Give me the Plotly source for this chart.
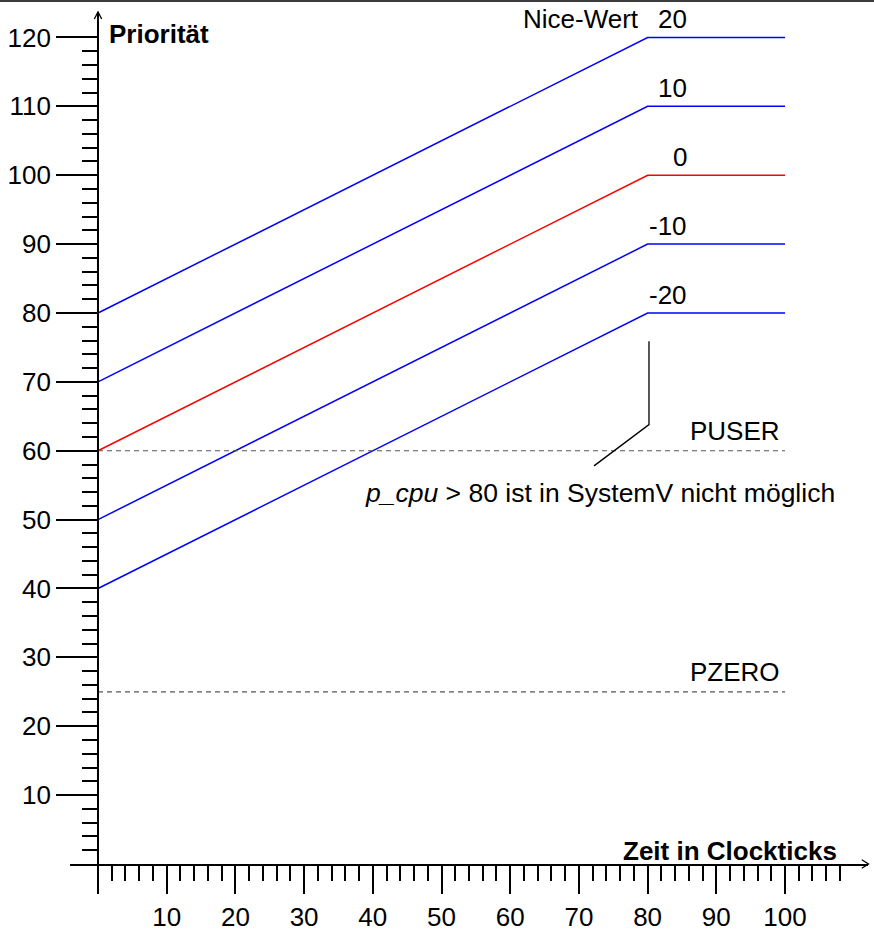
import plotly.graph_objects as go

# Zeitachse (Clockticks) und Prioritätsverlauf je Nice-Wert
zeit = [0, 80, 100]
nice_werte = ["20", "10", "0", "-10", "-20"]
prioritaet = {
    "20": [80, 120, 120],
    "10": [70, 110, 110],
    "0": [60, 100, 100],
    "-10": [50, 90, 90],
    "-20": [40, 80, 80],
}
farben = {"20": "#0000ff", "10": "#0000ff", "0": "#ff0000", "-10": "#0000ff", "-20": "#0000ff"}

# Schwellen
schwellen_namen = ["PUSER", "PZERO"]
schwellen_werte = [60, 25]
schwellen_zeit = [0, 100]

# Hinweislinie zum Plateau bei p_cpu = 80
hinweis_x = [80.2, 80.2, 72.2]
hinweis_y = [75.9, 63.8, 57.8]

# Achsenbeschriftung
x_major = list(range(0, 101, 10))
x_major_text = [""] + [str(v) for v in range(10, 101, 10)]
x_minor = [v for v in range(2, 109, 2) if v % 10 != 0]
y_major = list(range(10, 121, 10))
y_minor = [v for v in range(2, 119, 2) if v % 10 != 0]

X_RANGE = [-4.076, 112.08]
Y_RANGE = [0, 123.7]

W, H = 874, 932
ML, MR, MT, MB = 70, 6, 12, 68
PW, PH = W - ML - MR, H - MT - MB

FONT = "Liberation Sans, Arial, Helvetica, sans-serif"
FS = 26


def px(xp):
    return (xp - ML) / PW


def py(yp):
    return 1 - (yp - MT) / PH


fig = go.Figure()

for nw in nice_werte:
    fig.add_trace(go.Scatter(
        x=zeit, y=prioritaet[nw], mode="lines",
        line=dict(color=farben[nw], width=1.5),
        showlegend=False, hoverinfo="skip"))

for name, wert in zip(schwellen_namen, schwellen_werte):
    fig.add_trace(go.Scatter(
        x=schwellen_zeit, y=[wert, wert], mode="lines",
        line=dict(color="#555555", width=1.2, dash="5px,4px"),
        showlegend=False, hoverinfo="skip"))

fig.add_trace(go.Scatter(
    x=hinweis_x, y=hinweis_y, mode="lines",
    line=dict(color="black", width=1.3),
    showlegend=False, hoverinfo="skip"))

annotations = []
# Nice-Wert-Beschriftungen über den Plateaus
for nw in nice_werte:
    annotations.append(dict(
        x=86.0, y=prioritaet[nw][-1], xref="x", yref="y",
        text=nw, showarrow=False, xanchor="right", yanchor="middle",
        yshift=18, font=dict(family=FONT, size=FS, color="black")))
annotations.append(dict(
    x=79.1, y=prioritaet["20"][-1], xref="x", yref="y",
    text="Nice-Wert", showarrow=False, xanchor="right", yanchor="middle",
    yshift=18, font=dict(family=FONT, size=FS, color="black")))

for name, wert in zip(schwellen_namen, schwellen_werte):
    annotations.append(dict(
        x=99.5, y=wert, xref="x", yref="y", text=name, showarrow=False,
        xanchor="right", yanchor="middle", yshift=20,
        font=dict(family=FONT, size=FS, color="black")))

annotations.append(dict(
    x=73.1, y=53.8, xref="x", yref="y",
    text="<i>p_cpu</i> &gt; 80 ist in SystemV nicht möglich",
    showarrow=False, xanchor="center", yanchor="middle",
    font=dict(family=FONT, size=26.5, color="black")))

annotations.append(dict(
    x=px(107), y=py(34), xref="paper", yref="paper",
    text="<b>Priorität</b>", showarrow=False, xanchor="left", yanchor="middle",
    font=dict(family=FONT, size=FS, color="black")))
annotations.append(dict(
    x=px(839), y=py(851), xref="paper", yref="paper",
    text="<b>Zeit in Clockticks</b>", showarrow=False, xanchor="right",
    yanchor="middle", font=dict(family=FONT, size=FS, color="black")))


def chevron(tip, a, b):
    return (f"M {px(a[0])},{py(a[1])} L {px(tip[0])},{py(tip[1])} "
            f"L {px(b[0])},{py(b[1])}")


shapes = [
    # Pfeilspitzen der Achsen
    dict(type="path", xref="paper", yref="paper",
         path=chevron((98, 12), (94.3, 19), (101.7, 19)),
         line=dict(color="black", width=1.3)),
    dict(type="path", xref="paper", yref="paper",
         path=chevron((868.5, 864), (861.8, 859.8), (861.8, 868.2)),
         line=dict(color="black", width=1.3)),
    # Rahmenlinie oben
    dict(type="line", xref="paper", yref="paper",
         x0=px(0), x1=px(W), y0=py(1), y1=py(1),
         line=dict(color="#3c3c3c", width=2)),
]

fig.update_layout(
    width=W, height=H,
    margin=dict(l=ML, r=MR, t=MT, b=MB, pad=0, autoexpand=False),
    paper_bgcolor="white", plot_bgcolor="white",
    font=dict(family=FONT, size=FS, color="black"),
    annotations=annotations, shapes=shapes,
    xaxis=dict(
        range=X_RANGE, domain=[0, 1], anchor="y", automargin=False,
        showgrid=False, zeroline=False,
        showline=True, linecolor="black", linewidth=1.6,
        tickmode="array", tickvals=x_major, ticktext=x_major_text,
        ticks="outside", ticklen=28, tickwidth=1.5, tickcolor="black",
        ticklabelstandoff=1,
        tickfont=dict(family=FONT, size=FS, color="black"),
        minor=dict(tickmode="array", tickvals=x_minor, ticks="outside",
                   ticklen=15, tickwidth=1.5, tickcolor="black", showgrid=False),
    ),
    yaxis=dict(
        range=Y_RANGE, domain=[0, 1], anchor="free", position=px(98),
        automargin=False,
        showgrid=False, zeroline=False,
        showline=True, linecolor="black", linewidth=1.6,
        tickmode="array", tickvals=y_major,
        ticks="outside", ticklen=41, tickwidth=1.5, tickcolor="black",
        tickfont=dict(family=FONT, size=FS, color="black"),
        minor=dict(tickmode="array", tickvals=y_minor, ticks="outside",
                   ticklen=15, tickwidth=1.5, tickcolor="black", showgrid=False),
    ),
)

fig.write_html("out.html")
